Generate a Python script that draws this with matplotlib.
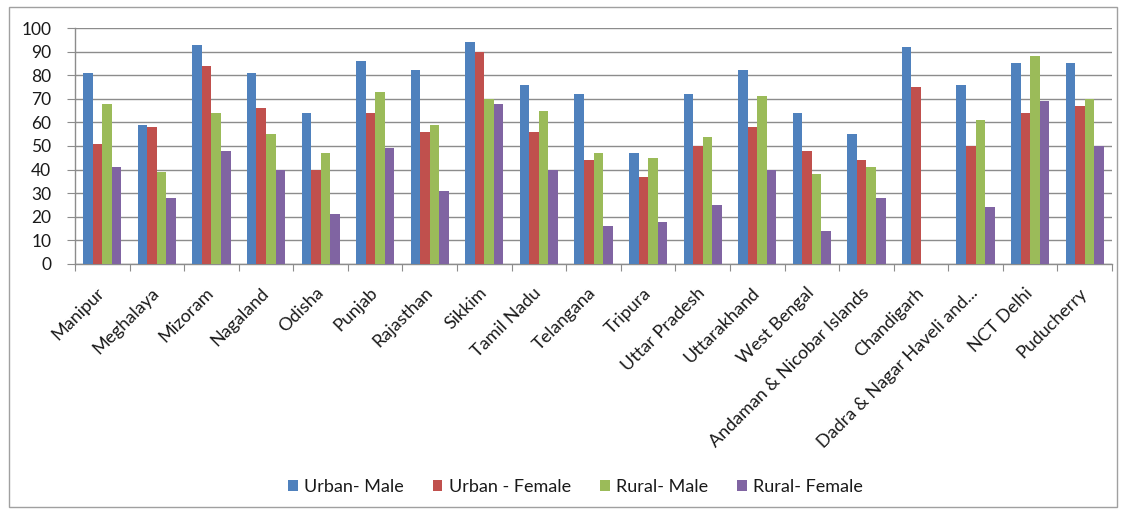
import matplotlib
matplotlib.use("Agg")
import matplotlib.pyplot as plt
import matplotlib.transforms as mtransforms
import numpy as np
from matplotlib.patches import Rectangle

states = ["Manipur", "Meghalaya", "Mizoram", "Nagaland", "Odisha", "Punjab", "Rajasthan",
          "Sikkim", "Tamil Nadu", "Telangana", "Tripura", "Uttar Pradesh", "Uttarakhand",
          "West Bengal", "Andaman & Nicobar Islands", "Chandigarh",
          "Dadra & Nagar Haveli and...", "NCT Delhi", "Puducherry"]
urban_male = [81, 59, 93, 81, 64, 86, 82, 94, 76, 72, 47, 72, 82, 64, 55, 92, 76, 85, 85]
urban_female = [51, 58, 84, 66, 40, 64, 56, 90, 56, 44, 37, 50, 58, 48, 44, 75, 50, 64, 67]
rural_male = [68, 39, 64, 55, 47, 73, 59, 70, 65, 47, 45, 54, 71, 38, 41, 0, 61, 88, 70]
rural_female = [41, 28, 48, 40, 21, 49, 31, 68, 40, 16, 18, 25, 40, 14, 28, 0, 24, 69, 50]
series_names = ["Urban- Male", "Urban - Female", "Rural- Male", "Rural- Female"]
colors = ["#4F81BD", "#C0504D", "#9BBB59", "#8064A2"]
yticks = list(range(0, 101, 10))

plt.rcParams['font.family'] = ['Lato', 'DejaVu Sans']

fig = plt.figure(figsize=(11.26, 5.13), dpi=100)
fig.patches.append(Rectangle((0.008, 0.012), 0.984, 0.975, transform=fig.transFigure,
                             fill=False, edgecolor="#A0A0A0", linewidth=1.0))
ax = fig.add_axes([0.0666, 0.4854, 0.9210, 0.46])

x = np.arange(len(states))
bw = 0.175
all_series = [urban_male, urban_female, rural_male, rural_female]
for i, (vals, name, c) in enumerate(zip(all_series, series_names, colors)):
    ax.bar(x + (i - 1.5) * bw, vals, width=bw, color=c, label=name, zorder=3)

ax.set_xlim(-0.5, len(states) - 0.5)
ax.set_ylim(0, 100)
ax.set_yticks(yticks)
ax.set_yticklabels([str(t) for t in yticks], fontsize=12.5, color="#1a1a1a")
ax.yaxis.grid(True, color="#8C8C8C", linewidth=1.0, zorder=0)
ax.set_axisbelow(True)

ax.set_xticks(np.arange(-0.5, len(states)), minor=False)
ax.set_xticklabels([])
ax.set_xticks(x, minor=True)
labels = ax.set_xticklabels(states, minor=True, rotation=45, ha="right", va="center",
                            rotation_mode="anchor", fontsize=13, color="#1a1a1a")
offset = mtransforms.ScaledTranslation(7.0 / 72, 0, fig.dpi_scale_trans)
for lab in ax.get_xticklabels(minor=True):
    lab.set_transform(lab.get_transform() + offset)
ax.tick_params(axis="x", which="minor", length=0, pad=19)
ax.tick_params(axis="x", which="major", length=5, color="#8C8C8C", direction="out")
ax.tick_params(axis="y", length=6, color="#8C8C8C", direction="out", pad=11)

for s in ["top", "right"]:
    ax.spines[s].set_visible(False)
for s in ["left", "bottom"]:
    ax.spines[s].set_color("#8C8C8C")
    ax.spines[s].set_linewidth(1.0)

leg = fig.legend(loc="center", bbox_to_anchor=(0.511, 0.051), ncol=4, frameon=False,
                 fontsize=13, handlelength=0.55, handleheight=0.55, handletextpad=0.35,
                 columnspacing=1.6, borderpad=0)
for t in leg.get_texts():
    t.set_color("#1a1a1a")

fig.savefig("out.png", dpi=100)
